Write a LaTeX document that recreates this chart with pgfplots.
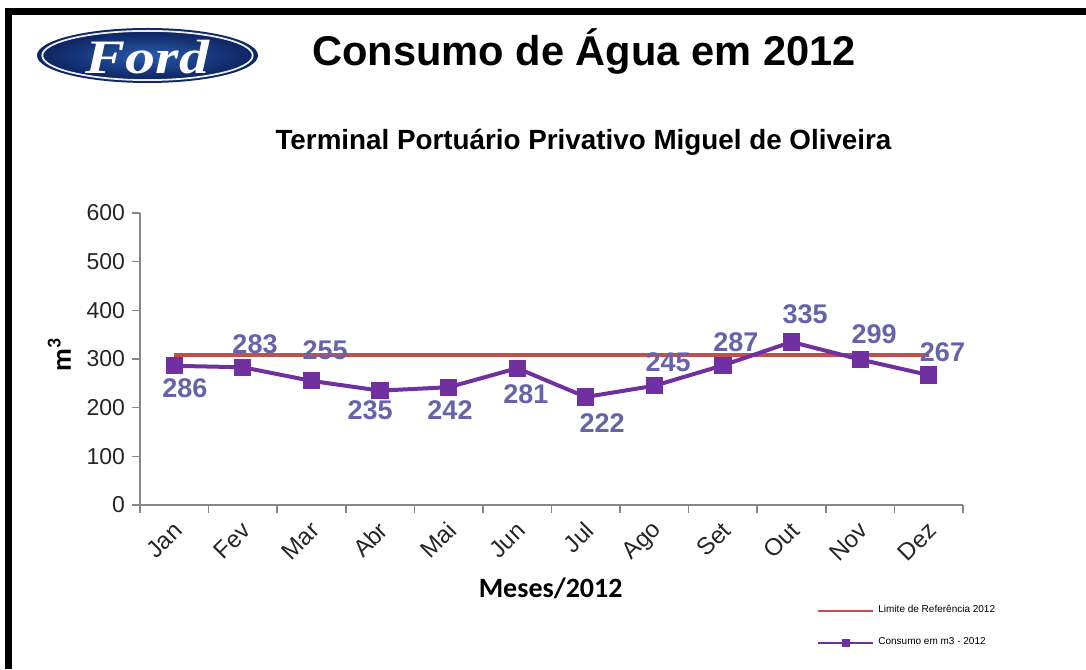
\documentclass[border=0pt]{standalone}
\usepackage{pgfplots}
\pgfplotsset{compat=1.18}
\usepackage{fontspec}
\setmainfont{Liberation Sans}
\newfontfamily\calibri{Carlito}
\newfontfamily\fordfont{Liberation Serif}
\definecolor{refred}{RGB}{192,80,77}
\definecolor{cpurple}{RGB}{112,48,160}
\definecolor{lblcol}{RGB}{104,98,168}
\definecolor{axgray}{RGB}{134,134,134}
\definecolor{forddark}{RGB}{14,38,100}
\definecolor{fordmid}{RGB}{40,90,170}
\begin{document}
\begin{tikzpicture}
\useasboundingbox (0,0) rectangle (543pt,334.5pt);
\begin{scope}[x=0.5pt,y=-0.5pt,yshift=334.5pt]
  % frame
  \fill[black] (5,8) rectangle (1086,15);
  \fill[black] (5,8) rectangle (12,669);
  % logo
  \fill[forddark] (147.5,55.5) ellipse [x radius=55.25pt, y radius=13.75pt];
  \draw[white!85!gray, line width=0.9pt] (147.5,55.5) ellipse [x radius=52.6pt, y radius=12.3pt];
  \shade[inner color=fordmid, outer color=forddark] (147.5,55.5) ellipse [x radius=51.5pt, y radius=11.5pt];
  \node[white, font=\fordfont\bfseries\itshape\fontsize{24}{28}\selectfont, xscale=1.25] at (147.5,57) {Ford};
  % titles
  \node[anchor=base, font=\bfseries\fontsize{20.8}{24}\selectfont] at (584,66) {Consumo de Água em 2012};
  \node[anchor=base, font=\bfseries\fontsize{13.9}{16}\selectfont] at (583.5,150) {Terminal Portuário Privativo Miguel de Oliveira};
\end{scope}
\begin{axis}[
  at={(70pt,82pt)}, anchor=south west,
  width=411.5pt, height=146pt, scale only axis,
  xmin=0.5, xmax=12.5, ymin=0, ymax=600,
  axis lines=left,
  axis line style={draw=axgray, line width=0.8pt, -},
  tick align=outside,
  ytick={0,100,...,600},
  xtick={1,...,12},
  xticklabels={Jan,Fev,Mar,Abr,Mai,Jun,Jul,Ago,Set,Out,Nov,Dez},
  minor xtick={0.5,1.5,...,12.5},
  major x tick style={draw=none},
  minor x tick style={draw=axgray, line width=0.8pt},
  major y tick style={draw=axgray, line width=0.8pt},
  major tick length=4pt, minor tick length=4pt,
  /pgf/number format/assume math mode=true,
  yticklabel style={font=\fontsize{11.5}{13}\selectfont, text=black!85},
  xticklabel style={font=\fontsize{12}{14}\selectfont, text=black!85, rotate=45, anchor=east, yshift=-6pt},
  xlabel={Meses/2012},
  xlabel style={at={(axis description cs:0.499,-0.284)}, anchor=center, font=\calibri\bfseries\fontsize{14}{16}\selectfont},
  ylabel={m\textsuperscript{3}},
  ylabel style={at={(axis description cs:-0.098,0.514)}, anchor=center, font=\calibri\bfseries\fontsize{14}{16}\selectfont},
  legend style={draw=none, fill=none, at={(axis description cs:0.8226,-0.329)}, anchor=north west,
    font=\fontsize{5}{6}\selectfont, row sep=7pt, inner sep=0pt},
  legend cell align=left,
  clip=false,
]
\addplot[refred, line width=2pt, mark=none,
  legend image code/.code={\draw[refred,line width=1pt](0pt,0pt)--(27.5pt,0pt);}]
  coordinates {(1,308)(2,308)(3,308)(4,308)(5,308)(6,308)(7,308)(8,308)(9,308)(10,308)(11,308)(12,308)};
\addlegendentry{Limite de Referência 2012}
\addplot[cpurple, line width=2pt, mark=square*, mark size=3.3pt, mark options={solid},
  legend image code/.code={\draw[cpurple,line width=1pt](0pt,0pt)--(27.5pt,0pt);
     \fill[cpurple](12.75pt,-1pt) rectangle (14.75pt,1pt);}]
  coordinates {(1,286)(2,283)(3,255)(4,235)(5,242)(6,281)(7,222)(8,245)(9,287)(10,335)(11,299)(12,267)};
\addlegendentry{Consumo em m3 - 2012}
\begin{scope}[every node/.style={text=lblcol, font=\bfseries\fontsize{13.5}{15}\selectfont}]
\node at (axis cs:1.155,240.4) {286};
\node at (axis cs:2.177,330.8) {283};
\node at (axis cs:3.198,318.5) {255};
\node at (axis cs:3.854,195.1) {235};
\node at (axis cs:5.020,195.1) {242};
\node at (axis cs:6.128,228.1) {281};
\node at (axis cs:7.237,168.5) {222};
\node at (axis cs:8.199,293.8) {245};
\node at (axis cs:9.190,334.9) {287};
\node at (axis cs:10.197,392.4) {335};
\node at (axis cs:11.203,351.3) {299};
\node at (axis cs:12.201,313.3) {267};
\end{scope}
\end{axis}
\end{tikzpicture}
\end{document}
